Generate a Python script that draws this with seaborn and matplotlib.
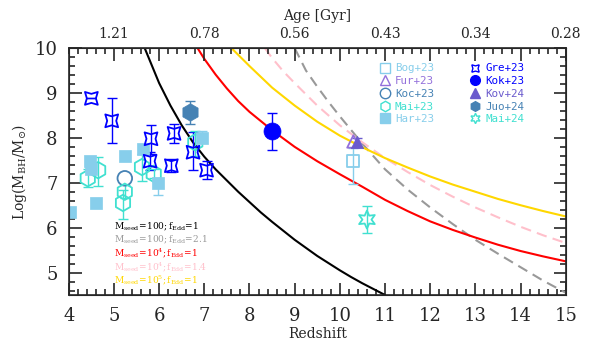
import matplotlib
matplotlib.use("Agg")
import matplotlib.pyplot as plt
import seaborn as sns
import pandas as pd
import numpy as np

# --- observed black holes (redshift, log M_BH, err low, err high) ---
gre_z = [4.50, 4.95, 5.82, 6.33, 5.80, 6.27, 6.75, 7.05]
gre_m = [8.88, 8.38, 7.98, 8.10, 7.48, 7.38, 7.68, 7.28]
gre_lo = [0.0, 0.50, 0.33, 0.22, 0.20, 0.15, 0.40, 0.20]
gre_hi = [0.0, 0.50, 0.30, 0.20, 0.20, 0.15, 0.45, 0.20]

mai23_z = [4.42, 4.65, 5.24, 5.20, 5.62, 5.88, 6.80]
mai23_m = [7.10, 7.28, 6.80, 6.55, 7.35, 7.20, 7.90]
mai23_lo = [0.20, 0.35, 0.15, 0.35, 0.30, 0.10, 0.30]
mai23_hi = [0.20, 0.30, 0.15, 0.30, 0.30, 0.10, 0.25]

har_z = [4.02, 4.48, 4.50, 4.60, 5.25, 5.65, 5.98, 6.95]
har_m = [6.35, 7.48, 7.30, 6.55, 7.60, 7.75, 7.00, 8.00]
har_lo = [0.0, 0.0, 0.0, 0.0, 0.0, 0.0, 0.28, 0.0]
har_hi = [0.0, 0.0, 0.0, 0.0, 0.0, 0.0, 0.0, 0.15]

koc_z, koc_m = [5.24], [7.10]
juo_z, juo_m, juo_lo, juo_hi = [6.68], [8.58], [0.28], [0.25]
kok_z, kok_m, kok_lo, kok_hi = [8.50], [8.16], [0.42], [0.40]
kov_z, kov_m, kov_lo, kov_hi = [10.37], [7.90], [0.10], [0.10]
fur_z, fur_m = [10.30], [7.92]
bog_z, bog_m, bog_lo, bog_hi = [10.29], [7.48], [0.50], [0.30]
mai24_z, mai24_m, mai24_lo, mai24_hi = [10.60], [6.18], [0.30], [0.30]

# --- growth tracks ---
blk_z = [5.68, 6.0, 6.25, 6.5, 6.75, 7.0, 7.25, 7.5, 7.75, 8.0, 8.25, 8.5, 8.75,
         9.0, 9.25, 9.5, 9.75, 10.0, 10.25, 10.5, 10.75, 11.0]
blk_m = [10.0, 9.22, 8.72, 8.28, 7.9, 7.58, 7.3, 7.05, 6.8, 6.57, 6.34, 6.13, 5.93,
         5.73, 5.55, 5.37, 5.21, 5.05, 4.9, 4.76, 4.63, 4.5]
gry_z = [9.0, 9.25, 9.5, 9.75, 10.0, 10.5, 11.0, 11.5, 12.0, 12.5, 13.0, 13.5, 14.0, 14.5, 15.0]
gry_m = [10.0, 9.5, 9.14, 8.8, 8.48, 7.87, 7.3, 6.85, 6.45, 6.08, 5.73, 5.42, 5.12, 4.82, 4.55]
red_z = [6.85, 7.0, 7.25, 7.5, 7.75, 8.0, 8.5, 9.0, 9.5, 10.0, 10.5, 11.0, 11.5, 12.0,
         12.5, 13.0, 13.5, 14.0, 14.5, 15.0]
red_m = [10.0, 9.76, 9.41, 9.1, 8.82, 8.58, 8.17, 7.8, 7.48, 7.19, 6.91, 6.62, 6.37, 6.14,
         5.95, 5.78, 5.62, 5.48, 5.36, 5.25]
pnk_z = [8.34, 8.5, 8.75, 9.0, 9.5, 10.0, 10.5, 11.0, 11.5, 12.0, 12.5, 13.0, 13.5, 14.0, 14.5, 15.0]
pnk_m = [10.0, 9.78, 9.48, 9.22, 8.72, 8.28, 7.9, 7.55, 7.24, 6.95, 6.69, 6.45, 6.23, 6.02, 5.83, 5.66]
ylw_z = [7.6, 8.0, 8.5, 9.0, 9.5, 10.0, 10.5, 11.0, 11.5, 12.0, 12.5, 13.0, 13.5, 14.0, 14.5, 15.0]
ylw_m = [10.0, 9.6, 9.12, 8.72, 8.36, 8.05, 7.79, 7.55, 7.34, 7.14, 6.96, 6.8, 6.64, 6.5, 6.37, 6.25]

age_z = [5, 7, 9, 11, 13, 15]
age_labels = ["1.21", "0.78", "0.56", "0.43", "0.34", "0.28"]

model_labels = [r"$\mathrm{M_{seed}\!=\!100;f_{Edd}\!=\!1}$",
                r"$\mathrm{M_{seed}\!=\!100;f_{Edd}\!=\!2.1}$",
                r"$\mathrm{M_{seed}\!=\!10^4;f_{Edd}\!=\!1}$",
                r"$\mathrm{M_{seed}\!=\!10^4;f_{Edd}\!=\!1.4}$",
                r"$\mathrm{M_{seed}\!=\!10^5;f_{Edd}\!=\!1}$"]
model_colors = ["black", "#999999", "red", "#ffc0cb", "gold"]

sns.set_style("ticks")
plt.rcParams["font.family"] = ["DejaVu Serif"]
plt.rcParams["mathtext.fontset"] = "dejavuserif"

fig = plt.figure(figsize=(5.93, 3.46), dpi=100)
ax = fig.add_axes([0.116, 0.1474, 0.838, 0.7136])

tracks = [(blk_z, blk_m, "black", "-"), (gry_z, gry_m, "#999999", (0, (5, 3))),
          (red_z, red_m, "red", "-"), (pnk_z, pnk_m, "#ffc0cb", (0, (5, 3))),
          (ylw_z, ylw_m, "gold", "-")]
for zz, mm, c, ls in tracks:
    sns.lineplot(x=zz, y=mm, ax=ax, color=c, lw=1.5, linestyle=ls, sort=False)

def errs(z, m, lo, hi, c):
    ax.errorbar(z, m, yerr=[lo, hi], fmt="none", ecolor=c, elinewidth=1,
                capsize=3.5, capthick=1, zorder=2)

errs(gre_z, gre_m, gre_lo, gre_hi, "blue")
errs(mai23_z, mai23_m, mai23_lo, mai23_hi, "turquoise")
errs(har_z, har_m, har_lo, har_hi, "skyblue")
errs(juo_z, juo_m, juo_lo, juo_hi, "steelblue")
errs(kok_z, kok_m, kok_lo, kok_hi, "blue")
errs(kov_z, kov_m, kov_lo, kov_hi, "slateblue")
errs(bog_z, bog_m, bog_lo, bog_hi, "skyblue")
errs(mai24_z, mai24_m, mai24_lo, mai24_hi, "turquoise")

star4 = (4, 1, 45)
star6 = (6, 1, 0)
# (label, z, m, marker, color, filled, size)
groups = [
    ("Bog+23", bog_z, bog_m, "s", "skyblue", False, 70),
    ("Fur+23", fur_z, fur_m, "^", "mediumpurple", False, 80),
    ("Koc+23", koc_z, koc_m, "o", "steelblue", False, 110),
    ("Mai+23", mai23_z, mai23_m, "h", "turquoise", False, 140),
    ("Har+23", har_z, har_m, "s", "skyblue", True, 80),
    ("Gre+23", gre_z, gre_m, star4, "blue", False, 170),
    ("Kok+23", kok_z, kok_m, "o", "blue", True, 150),
    ("Kov+24", kov_z, kov_m, "^", "slateblue", True, 80),
    ("Juo+24", juo_z, juo_m, "h", "steelblue", True, 160),
    ("Mai+24", mai24_z, mai24_m, star6, "turquoise", False, 170),
]
handles = []
for lab, zz, mm, mk, c, filled, s in groups:
    if filled:
        sns.scatterplot(x=zz, y=mm, ax=ax, marker=mk, s=s, color=c,
                        edgecolor=c, linewidth=0.5, zorder=3)
        h = plt.Line2D([], [], ls="none", marker=mk, ms=7, color=c, mec=c)
    else:
        sns.scatterplot(x=zz, y=mm, ax=ax, marker=mk, s=s, facecolor="none",
                        edgecolor=c, linewidth=1.3, zorder=3)
        h = plt.Line2D([], [], ls="none", marker=mk, ms=7.5, mfc="none", mec=c, mew=1)
    handles.append((h, lab, c))

leg = ax.legend([h[0] for h in handles], [h[1] for h in handles],
                labelcolor=[h[2] for h in handles], ncol=2, loc="upper left",
                bbox_to_anchor=(0.625, 0.938), frameon=False,
                borderpad=0, borderaxespad=0, handletextpad=0.43,
                columnspacing=3.3, labelspacing=0.25, handlelength=1.0,
                prop={"family": "DejaVu Sans Mono", "size": 7.8})

for i, (lab, c) in enumerate(zip(model_labels, model_colors)):
    ax.text(5.0, 6.02 - i * 0.30, lab, color=c, fontsize=6.5, va="center", ha="left")

ax.set_xlim(4, 15)
ax.set_ylim(4.5, 10)
ax.set_xticks(range(4, 16))
ax.set_yticks(range(5, 11))
ax.set_xticks(np.arange(4, 15.01, 0.2), minor=True)
ax.set_yticks(np.arange(4.6, 10.01, 0.2), minor=True)
ax.tick_params(which="both", direction="in", right=True, labelsize=13, width=1.2)
ax.tick_params(which="major", length=9)
ax.tick_params(which="minor", length=4)
ax.tick_params(axis="x", pad=9)
ax.tick_params(axis="y", pad=8)
ax.set_xlabel("Redshift", fontsize=10, labelpad=1)
ax.set_ylabel(r"Log(M$_{\rm BH}$/M$_{\odot}$)", fontsize=10, labelpad=4)
for sp in ax.spines.values():
    sp.set_linewidth(1.2)

top = ax.twiny()
top.set_xlim(ax.get_xlim())
top.set_xticks(range(5, 16))
top.set_xticklabels([age_labels[age_z.index(z)] if z in age_z else "" for z in range(5, 16)])
top.set_xticks(np.arange(4, 15.01, 0.2), minor=True)
top.tick_params(which="both", direction="in", labelsize=10, width=1.2, pad=5)
top.tick_params(which="major", length=9)
top.tick_params(which="minor", length=4)
top.set_xlabel("Age [Gyr]", fontsize=10, labelpad=5)

fig.savefig("out.png", dpi=100)
